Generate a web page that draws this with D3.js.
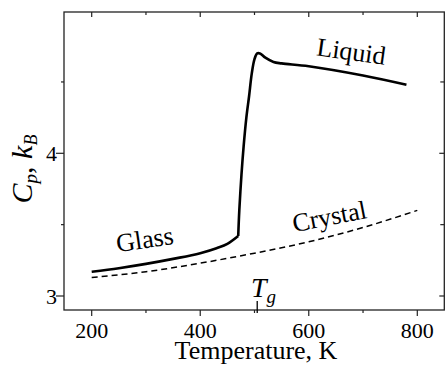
<!DOCTYPE html>
<html><head><meta charset="utf-8">
<script src="https://cdn.jsdelivr.net/npm/d3@7"></script>
<style>body{margin:0;background:#fff}svg{display:block}</style>
</head><body>
<script>
// Data (Temperature K, Cp in kB)
const glassT   = [200, 250, 300, 350, 400, 430, 450, 470];
const glassCp  = [3.17, 3.195, 3.225, 3.26, 3.30, 3.335, 3.365, 3.42];
const riseT    = [470, 472, 476, 480, 485, 490, 495, 500, 505, 510, 520, 535, 550];
const riseCp   = [3.42, 3.60, 3.85, 4.05, 4.25, 4.40, 4.56, 4.66, 4.70, 4.70, 4.67, 4.64, 4.63];
const liquidT  = [550, 600, 700, 780];
const liquidCp = [4.63, 4.61, 4.545, 4.48];
const crystalT  = [200, 300, 400, 500, 600, 700, 800];
const crystalCp = [3.13, 3.17, 3.23, 3.30, 3.38, 3.48, 3.60];
const xMajor = [200, 400, 600, 800];
const xMinor = [300, 500, 700];
const yMajor = [3, 4];
const yMinor = [3.5, 4.5];
const Tg = 505;

const FONT = "'Liberation Serif', 'Times New Roman', 'DejaVu Serif', serif";
const W = 445, H = 365;
const svg = d3.select("body").append("svg").attr("width", W).attr("height", H)
  .attr("font-family", FONT).style("font-family", FONT);
const x = d3.scaleLinear().domain([200, 800]).range([91.7, 417.3]);
const y = d3.scaleLinear().domain([3, 4]).range([296, 153.3]);
const L = 64, R = 444.3, T = 12, B = 310;

// frame
svg.append("rect").attr("x", L).attr("y", T).attr("width", R - L).attr("height", B - T)
  .attr("fill", "none").attr("stroke", "#222").attr("stroke-width", 1.3);

const tk = svg.append("g").attr("stroke", "#222").attr("stroke-width", 1.2);
xMajor.forEach(v => {
  tk.append("line").attr("x1", x(v)).attr("x2", x(v)).attr("y1", B).attr("y2", B + 6);
  tk.append("line").attr("x1", x(v)).attr("x2", x(v)).attr("y1", T).attr("y2", T + 5);
});
xMinor.forEach(v => {
  tk.append("line").attr("x1", x(v)).attr("x2", x(v)).attr("y1", B).attr("y2", B + 3);
  tk.append("line").attr("x1", x(v)).attr("x2", x(v)).attr("y1", T).attr("y2", T + 3);
});
yMajor.forEach(v => {
  tk.append("line").attr("x1", L - 8).attr("x2", L).attr("y1", y(v)).attr("y2", y(v));
  tk.append("line").attr("x1", R - 5).attr("x2", R).attr("y1", y(v)).attr("y2", y(v));
});
yMinor.forEach(v => {
  tk.append("line").attr("x1", L - 3).attr("x2", L).attr("y1", y(v)).attr("y2", y(v));
  tk.append("line").attr("x1", R - 4).attr("x2", R).attr("y1", y(v)).attr("y2", y(v));
});

// tick labels
svg.append("g").selectAll("text").data(xMajor).join("text")
  .attr("x", d => x(d)).attr("y", 338).attr("text-anchor", "middle")
  .attr("font-size", 22).text(d => d);
svg.append("g").selectAll("text").data(yMajor).join("text")
  .attr("x", 57).attr("y", d => y(d) + 8).attr("text-anchor", "end")
  .attr("font-size", 22).text(d => d);

// axis titles
svg.append("text").attr("x", 256).attr("y", 359).attr("text-anchor", "middle")
  .attr("font-size", 26).text("Temperature, K");
const yl = svg.append("text").attr("transform", "translate(32,169) rotate(-90)")
  .attr("text-anchor", "middle").attr("font-size", 30);
yl.append("tspan").attr("font-style", "italic").text("C");
yl.append("tspan").attr("font-style", "italic").attr("font-size", 19).attr("dy", 5).text("p");
yl.append("tspan").attr("dy", -5).text(", ");
yl.append("tspan").attr("font-style", "italic").text("k");
yl.append("tspan").attr("font-style", "italic").attr("font-size", 18).attr("dy", 5).text("B");

// curves
const line = d3.line().x(d => x(d[0])).y(d => y(d[1])).curve(d3.curveMonotoneX);
const lineC = d3.line().x(d => x(d[0])).y(d => y(d[1])).curve(d3.curveCatmullRom);
svg.append("path").attr("d", line(glassT.map((t, i) => [t, glassCp[i]])))
  .attr("fill", "none").attr("stroke", "#000").attr("stroke-width", 2.6);
svg.append("path").attr("d", lineC(riseT.map((t, i) => [t, riseCp[i]]).concat(liquidT.slice(1).map((t, i) => [t, liquidCp[i + 1]]))))
  .attr("fill", "none").attr("stroke", "#000").attr("stroke-width", 2.6).attr("stroke-linejoin", "round");
svg.append("path").attr("d", line(crystalT.map((t, i) => [t, crystalCp[i]])))
  .attr("fill", "none").attr("stroke", "#000").attr("stroke-width", 1.5).attr("stroke-dasharray", "6,4");

// Tg marker
svg.append("line").attr("x1", x(Tg)).attr("x2", x(Tg)).attr("y1", 301).attr("y2", 313)
  .attr("stroke", "#000").attr("stroke-width", 1.3);
const tg = svg.append("text").attr("x", 251).attr("y", 297).attr("font-size", 28);
tg.append("tspan").attr("font-style", "italic").text("T");
tg.append("tspan").attr("font-style", "italic").attr("font-size", 19).attr("dy", 6).text("g");

// curve labels
svg.append("text").attr("transform", "translate(146,248) rotate(-8.5)").attr("text-anchor", "middle")
  .attr("font-size", 26).text("Glass");
svg.append("text").attr("transform", "translate(350,60) rotate(8)").attr("text-anchor", "middle")
  .attr("font-size", 26).text("Liquid");
svg.append("text").attr("transform", "translate(331,225) rotate(-11)").attr("text-anchor", "middle")
  .attr("font-size", 26).text("Crystal");
</script>
</body></html>
